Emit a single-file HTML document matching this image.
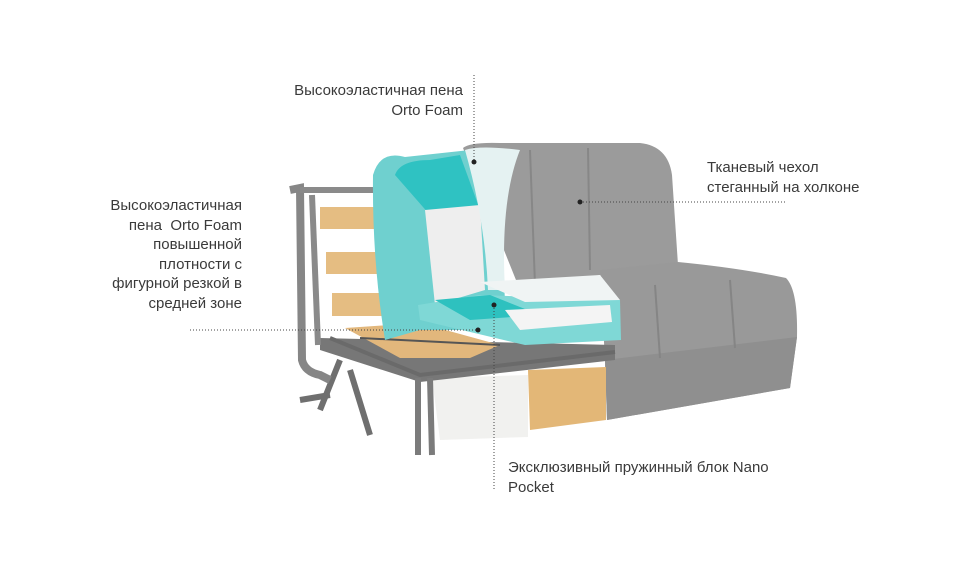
<!DOCTYPE html>
<html><head><meta charset="utf-8"><style>
body{margin:0;background:#fff;width:978px;height:572px;overflow:hidden;position:relative;font-family:"Liberation Sans",sans-serif;color:#3a3a3a;font-size:15px;line-height:19.5px}
.t{position:absolute}
svg{position:absolute;left:0;top:0}
</style></head><body>
<svg width="978" height="572" viewBox="0 0 978 572">
<!-- gray back -->
<path d="M463 148 Q470 142 500 143 L640 143 Q668 146 672 175 L678 265 L600 275 L520 290 Z" fill="#9b9b9b"/>
<path d="M530 150 L535 285 M588 148 L590 270" stroke="#878787" stroke-width="2"/>
<!-- seat -->
<path d="M600 270 L678 262 Q740 268 786 278 Q798 290 797 337 L790 388 L607 420 L605 360 Z" fill="#999"/>
<path d="M605 360 L797 337 L790 388 L607 420 Z" fill="#8f8f8f"/>
<path d="M655 285 L660 358 M730 280 L735 348" stroke="#858585" stroke-width="2"/>
<!-- drawer -->
<path d="M432 378 L528 375 L528 437 L440 440 Z" fill="#f1f1ef"/>
<path d="M528 370 L606 367 L606 420 L530 430 Z" fill="#e3b777"/>
<!-- metal frame base -->
<path d="M320 338 L615 345 L615 360 L420 382 L320 350 Z" fill="#777"/>
<path d="M330 338 L420 375 L615 352" stroke="#6a6a6a" stroke-width="4" fill="none"/>
<path d="M418 378 L418 455 M430 378 L432 455" stroke="#7b7b7b" stroke-width="6"/>
<path d="M340 360 L320 410 M350 370 L370 435" stroke="#6f6f6f" stroke-width="6"/>
<path d="M300 400 L330 395" stroke="#6f6f6f" stroke-width="6"/>
<!-- back frame -->
<path d="M290 190 L300 188 L302 360 Q305 372 320 375 L330 380" stroke="#868686" stroke-width="8" fill="none"/>
<path d="M300 190 L385 190" stroke="#8a8a8a" stroke-width="6"/>
<path d="M312 195 L318 345" stroke="#8a8a8a" stroke-width="6"/>
<rect x="320" y="207" width="62" height="22" fill="#e5bd82"/>
<rect x="326" y="252" width="64" height="22" fill="#e5bd82"/>
<rect x="332" y="293" width="66" height="23" fill="#e5bd82"/>
<!-- seat slats -->
<path d="M345 328 L420 323 L500 345 L470 358 L400 358 Z" fill="#e2b77c"/>
<path d="M360 338 L500 345" stroke="#555" stroke-width="2"/>
<!-- teal back foam -->
<path d="M373 175 Q380 150 405 157 L470 150 Q500 200 505 300 L480 330 L420 330 L385 340 Q372 260 373 175 Z" fill="#6fd0cf"/>
<path d="M395 175 Q400 160 430 160 L460 155 L480 210 L430 215 Z" fill="#2fc2c2"/>
<path d="M425 210 L480 205 L485 290 L435 305 Z" fill="#eeeeee"/>
<path d="M465 150 Q480 145 520 150 Q500 200 505 290 L488 290 Q485 220 465 150 Z" fill="#e5f2f2"/>
<!-- seat foam -->
<path d="M418 305 L480 295 L620 300 L621 340 L525 345 L420 320 Z" fill="#7fd8d6"/>
<path d="M435 300 L490 295 L540 315 L470 320 Z" fill="#2ec1bf"/>
<path d="M505 310 L610 305 L612 322 L520 330 Z" fill="#f4f4f4"/>
<path d="M480 282 L600 275 L620 300 L525 302 Z" fill="#f0f4f4"/>
<!-- dotted lines -->
<g stroke="#444" stroke-width="1" stroke-dasharray="1 2" fill="none">
<line x1="474" y1="75" x2="474" y2="162"/>
<line x1="580" y1="202" x2="785" y2="202"/>
<line x1="190" y1="330" x2="480" y2="330"/>
<line x1="494" y1="305" x2="494" y2="490"/>
</g>
<g fill="#222"><circle cx="474" cy="162" r="2.5"/><circle cx="580" cy="202" r="2.5"/><circle cx="478" cy="330" r="2.5"/><circle cx="494" cy="305" r="2.5"/></g>
</svg>
<div class="t" style="right:515px;top:81px;text-align:right">Высокоэластичная пена<br>Orto Foam</div>
<div class="t" style="left:707px;top:158px">Тканевый чехол<br>стеганный на холконе</div>
<div class="t" style="right:736px;top:196px;text-align:right">Высокоэластичная<br>пена&nbsp; Orto Foam<br>повышенной<br>плотности с<br>фигурной резкой в<br>средней зоне</div>
<div class="t" style="left:508px;top:458px">Эксклюзивный пружинный блок Nano<br>Pocket</div>
</body></html>
